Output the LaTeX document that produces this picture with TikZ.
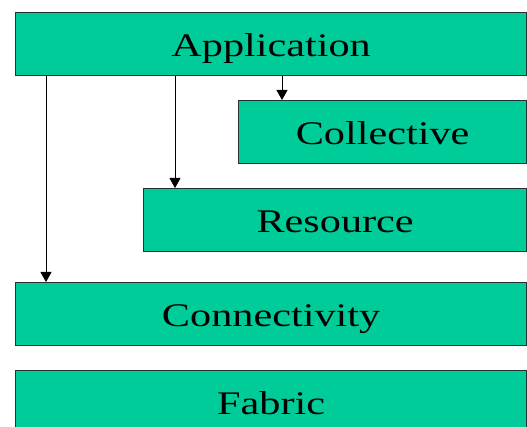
\documentclass[tikz,border=0pt]{standalone}
\usepackage{fontspec}
\setmainfont{Liberation Serif}
\newfontfamily\layerfont[FakeStretch=1.28]{Liberation Serif}
\usetikzlibrary{arrows.meta}
\definecolor{layergreen}{RGB}{0,204,153}
\definecolor{layeredge}{RGB}{40,50,50}
\tikzset{
  layer/.style={draw=layeredge, line width=1.2pt, fill=layergreen,
    anchor=north west, minimum height=63pt, inner sep=0pt,
    text height=25pt, text depth=0pt,
    font=\layerfont\fontsize{33}{40}\selectfont, text=black},
  link/.style={draw=black, line width=0.9pt,
    -{Triangle[width=11pt,length=10pt]}}
}
\begin{document}
\begin{tikzpicture}[x=1pt,y=-1pt]
  \useasboundingbox (0,0) rectangle (527,427);
  % protocol layers
  \node[layer, minimum width=511pt] (app)  at (15,12)  {Application};
  \node[layer, minimum width=288pt] (coll) at (238,100) {Collective};
  \node[layer, minimum width=383pt] (res)  at (143,188) {Resource};
  \node[layer, minimum width=511pt] (conn) at (15,282) {Connectivity};
  \node[layer, minimum width=511pt] (fab)  at (15,370) {Fabric};
  % drop lines from the application layer
  \coordinate (d1) at (46,0);
  \coordinate (d2) at (175,0);
  \coordinate (d3) at (282,0);
  \draw[link] (app.south -| d1) -- (conn.north -| d1);
  \draw[link] (app.south -| d2) -- (res.north -| d2);
  \draw[link] (app.south -| d3) -- (coll.north -| d3);
\end{tikzpicture}
\end{document}
